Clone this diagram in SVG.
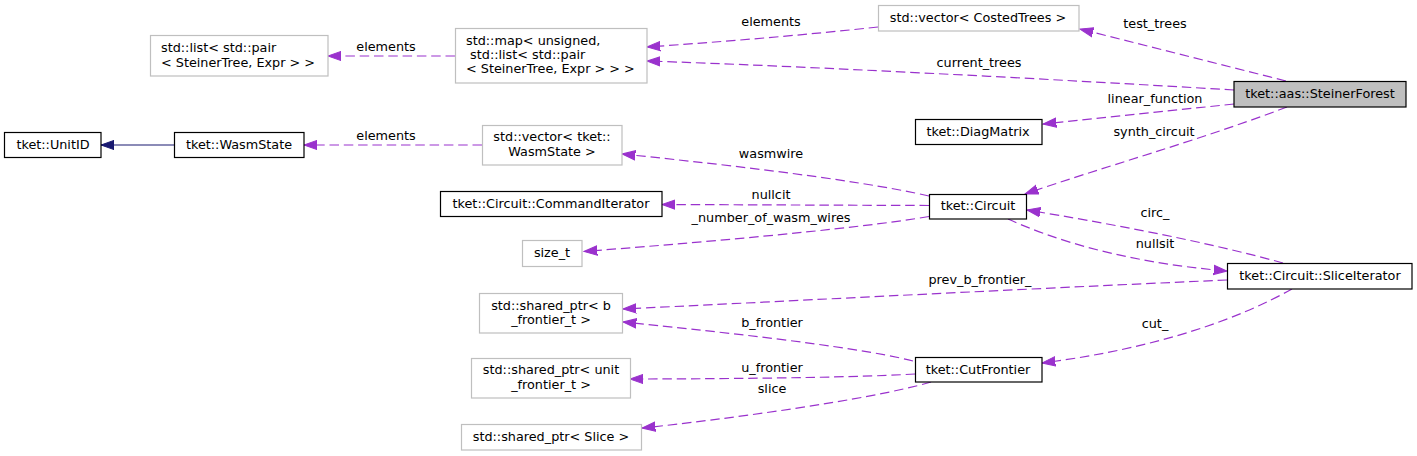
<svg xmlns="http://www.w3.org/2000/svg" width="1417" height="456" viewBox="0 0 1417 456">
<style>
text{font-family:"DejaVu Sans","Liberation Sans",sans-serif;font-size:12.8px;fill:#000}
.n rect{fill:#fff;stroke:#000;stroke-width:1.2}
.g rect{fill:#fff;stroke:#bfbfbf;stroke-width:1.2}
.sel rect{fill:#bfbfbf;stroke:#000;stroke-width:1.2}
.c{text-anchor:middle}
.s{text-anchor:start}
.e{fill:none;stroke:#9a32cd;stroke-width:1.2;stroke-dasharray:9.5,4.8}
.i{fill:none;stroke:#191970;stroke-width:1.2}
</style>
<defs>
<marker id="ap" markerUnits="userSpaceOnUse" markerWidth="16" markerHeight="12" viewBox="0 -6 16 12" refX="13.3" refY="0" orient="auto"><path d="M0,-4.7 L13.3,0 L0,4.7 z" fill="#9a32cd" stroke="#9a32cd" stroke-dasharray="none"/></marker>
<marker id="an" markerUnits="userSpaceOnUse" markerWidth="16" markerHeight="12" viewBox="0 -6 16 12" refX="13.3" refY="0" orient="auto"><path d="M0,-4.7 L13.3,0 L0,4.7 z" fill="#191970" stroke="#191970"/></marker>
</defs>
<g id="connectors">
<path class="e" d="M1286,81 L1080,29" marker-end="url(#ap)"/>
<text class="c" x="1155" y="28">test_trees</text>
<path class="e" d="M878,27 C805,35 720,42 647,47" marker-end="url(#ap)"/>
<text class="c" x="771" y="26">elements</text>
<path class="e" d="M1234,90 C1050,79 800,66 647,61" marker-end="url(#ap)"/>
<text class="c" x="979" y="67">current_trees</text>
<path class="e" d="M455,56 L328,56" marker-end="url(#ap)"/>
<text class="c" x="386" y="51">elements</text>
<path class="e" d="M1234,104 L1043,124" marker-end="url(#ap)"/>
<text class="c" x="1155" y="103">linear_function</text>
<path class="e" d="M1287,107 C1200,140 1100,168 1025,194" marker-end="url(#ap)"/>
<text class="c" x="1154" y="136">synth_circuit</text>
<path class="i" d="M174,145 L101,145" marker-end="url(#an)"/>
<path class="e" d="M482,145 L304,145" marker-end="url(#ap)"/>
<text class="c" x="386" y="140">elements</text>
<path class="e" d="M929,196 C850,178 700,162 622,154" marker-end="url(#ap)"/>
<text class="c" x="771" y="158">wasmwire</text>
<path class="e" d="M929,205.5 L662,204.5" marker-end="url(#ap)"/>
<text class="c" x="771" y="199">nullcit</text>
<path class="e" d="M929,216.5 C850,230 680,244 584,251.5" marker-end="url(#ap)"/>
<text class="c" x="771" y="222">_number_of_wasm_wires</text>
<path class="e" d="M1283,263 C1200,240 1100,222 1027,210" marker-end="url(#ap)"/>
<text class="c" x="1155" y="217">circ_</text>
<path class="e" d="M1008,219 C1050,238 1120,262 1227,271" marker-end="url(#ap)"/>
<text class="c" x="1155" y="248">nullsit</text>
<path class="e" d="M1227,280 C1000,290 750,303 623,309" marker-end="url(#ap)"/>
<text class="c" x="980" y="284">prev_b_frontier_</text>
<path class="e" d="M1292,289 C1240,318 1160,348 1042,363" marker-end="url(#ap)"/>
<text class="c" x="1155" y="328">cut_</text>
<path class="e" d="M913,361 C850,345 700,330 623,322" marker-end="url(#ap)"/>
<text class="c" x="772" y="327">b_frontier</text>
<path class="e" d="M915,374 C850,378 700,379 630,379" marker-end="url(#ap)"/>
<text class="c" x="772" y="372">u_frontier</text>
<path class="e" d="M931,382 C870,400 720,420 642,428" marker-end="url(#ap)"/>
<text class="c" x="772" y="393">slice</text>
</g>
<g id="steinerforest" class="sel"><rect x="1234" y="81.5" width="172" height="25.5"/><text class="c" x="1320" y="98">tket::aas::SteinerForest</text></g>
<g id="vector_costedtrees" class="g"><rect x="878.5" y="5.5" width="200.5" height="25.5"/><text class="c" x="978" y="22">std::vector&lt; CostedTrees &gt;</text></g>
<g id="map" class="g"><rect x="455.5" y="28.5" width="191.5" height="54.5"/><text class="s" x="466" y="45">std::map&lt; unsigned,</text><text class="s" x="466" y="59" xml:space="preserve"> std::list&lt; std::pair</text><text class="s" x="466" y="73">&lt; SteinerTree, Expr &gt; &gt; &gt;</text></g>
<g id="list" class="g"><rect x="150.5" y="35.5" width="177.5" height="40.5"/><text class="s" x="161" y="52">std::list&lt; std::pair</text><text class="s" x="161" y="67">&lt; SteinerTree, Expr &gt; &gt;</text></g>
<g id="diagmatrix" class="n"><rect x="915.5" y="119.5" width="126.5" height="25"/><text class="c" x="978" y="136">tket::DiagMatrix</text></g>
<g id="unitid" class="n"><rect x="4.5" y="132.5" width="96.5" height="25"/><text class="c" x="53" y="149">tket::UnitID</text></g>
<g id="wasmstate" class="n"><rect x="174.5" y="132.5" width="129.5" height="25"/><text class="c" x="239" y="149">tket::WasmState</text></g>
<g id="vector_wasmstate" class="g"><rect x="482.5" y="125.5" width="139.5" height="39.5"/><text class="c" x="552" y="141">std::vector&lt; tket::</text><text class="c" x="552" y="156">WasmState &gt;</text></g>
<g id="circuit" class="n"><rect x="929.5" y="194.5" width="97" height="24.5"/><text class="c" x="978" y="210">tket::Circuit</text></g>
<g id="commanditerator" class="n"><rect x="440.5" y="191.5" width="221.5" height="25"/><text class="c" x="551" y="208">tket::Circuit::CommandIterator</text></g>
<g id="size_t" class="g"><rect x="522.5" y="240.5" width="59.5" height="26"/><text class="c" x="552" y="257">size_t</text></g>
<g id="sliceiterator" class="n"><rect x="1227.5" y="263.5" width="184.5" height="25.5"/><text class="c" x="1320" y="280">tket::Circuit::SliceIterator</text></g>
<g id="sp_b_frontier" class="g"><rect x="479.5" y="293.5" width="143" height="39.5"/><text class="c" x="551" y="310">std::shared_ptr&lt; b</text><text class="c" x="551" y="324">_frontier_t &gt;</text></g>
<g id="cutfrontier" class="n"><rect x="915.5" y="357.5" width="126.5" height="24.5"/><text class="c" x="978" y="374">tket::CutFrontier</text></g>
<g id="sp_unit_frontier" class="g"><rect x="471.5" y="358.5" width="159" height="39.5"/><text class="c" x="551" y="374">std::shared_ptr&lt; unit</text><text class="c" x="551" y="389">_frontier_t &gt;</text></g>
<g id="sp_slice" class="g"><rect x="461.5" y="424.5" width="180" height="25.5"/><text class="c" x="551" y="441">std::shared_ptr&lt; Slice &gt;</text></g>
</svg>
